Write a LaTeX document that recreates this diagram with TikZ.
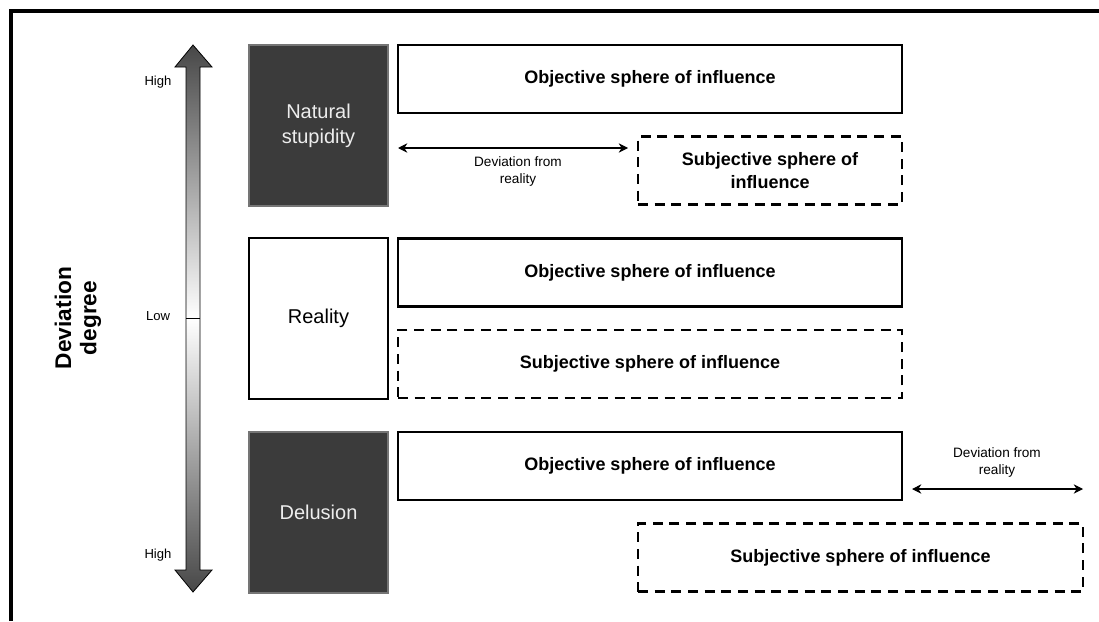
\documentclass[tikz,border=0pt]{standalone}
\usepackage{fontspec}
\setmainfont{Liberation Sans}
\usetikzlibrary{arrows.meta}

\definecolor{boxdark}{HTML}{3B3B3B}
\definecolor{boxedge}{HTML}{757575}

\tikzset{
  level/.style={rectangle, minimum width=104.25pt, minimum height=120.75pt,
    inner sep=0pt, align=center, font=\fontsize{15}{18.75}\selectfont},
  darklevel/.style={level, fill=boxdark, draw=boxedge, line width=1.5pt, text=white!93!black},
  lightlevel/.style={level, draw=black, line width=1.6pt},
  sphere/.style={rectangle, minimum height=51pt, inner sep=0pt, align=center,
    font=\bfseries\fontsize{13.5}{17}\selectfont},
  objective/.style={sphere, draw=black, line width=1.6pt, minimum width=378pt},
  subjective/.style={sphere, draw=black, line width=1.8pt, dash pattern=on 7.5pt off 5pt},
  devlabel/.style={align=center, font=\fontsize{10.2}{12.75}\selectfont},
  devarrow/.style={{Stealth[length=7pt,width=7pt]}-{Stealth[length=7pt,width=7pt]}, line width=0.8pt},
  tick/.style={font=\fontsize{9.8}{12}\selectfont}
}

\begin{document}
\begin{tikzpicture}[x=0.75pt,y=-0.75pt]
  \useasboundingbox (0,0) rectangle (1099,621);

  % frame
  \draw[line width=2.3pt] (11,621) -- (11,11) -- (1099,11);

  % degree scale
  \shade[top color=black!72, bottom color=black!72, middle color=white, draw=black, line width=0.6pt]
    (193,45) -- (212,67) -- (200,67) -- (200,570) -- (212,570) -- (193,592)
    -- (175,570) -- (186,570) -- (186,67) -- (175,67) -- cycle;
  \draw[line width=0.6pt] (186,318) -- (200,318);
  \node[tick] (high1) at (158,82) {High};
  \node[tick] (low) at (158,316) {Low};
  \node[tick] (high2) at (158,555) {High};
  \node[rotate=90, align=center, font=\bfseries\fontsize{17}{19}\selectfont] (axis) at (78,318) {Deviation\\degree};

  % levels
  \node[darklevel] (natural) at (318.5,125.5) {Natural\\stupidity};
  \node[lightlevel] (reality) at (318.5,318.5) {Reality};
  \node[darklevel] (delusion) at (318.5,512) {Delusion};

  % spheres of influence
  \node[objective] (obj1) at (650,79) {Objective sphere of influence};
  \node[subjective, minimum width=198pt] (subj1) at (770,170.5) {Subjective sphere of\\influence};
  \node[objective] (obj2) at (650,272.5) {Objective sphere of influence};
  \node[subjective, minimum width=378pt] (subj2) at (650,364) {Subjective sphere of influence};
  \node[objective] (obj3) at (650,466) {Objective sphere of influence};
  \node[subjective, minimum width=333.75pt] (subj3) at (860.5,557.5) {Subjective sphere of influence};

  % deviations
  \coordinate (dev1a) at (398,148);
  \coordinate (dev1b) at (628,148);
  \draw[devarrow] (dev1a) -- (dev1b);
  \node[devlabel] (dev1) at (518,171) {Deviation from\\reality};

  \coordinate (dev3a) at (912,489);
  \coordinate (dev3b) at (1083,489);
  \draw[devarrow] (dev3a) -- (dev3b);
  \node[devlabel] (dev3) at (997,462) {Deviation from\\reality};
\end{tikzpicture}
\end{document}
